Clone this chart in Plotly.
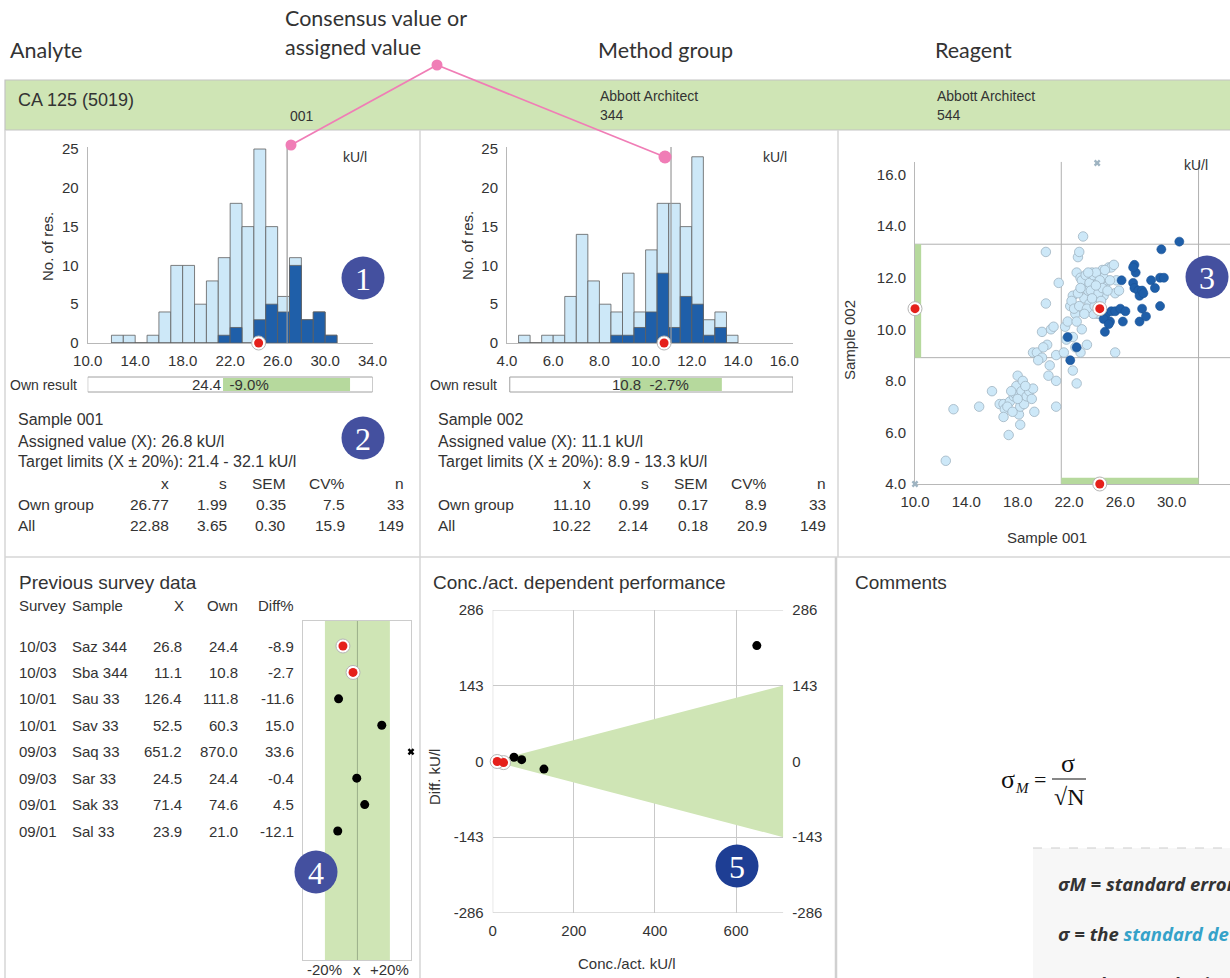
import plotly.graph_objects as go

W, H = 1230, 978
SANS = "Liberation Sans, Arial, sans-serif"
HEAD = "Lato, sans-serif"
SERIF = "Liberation Serif, Times New Roman, serif"
NOTE = "Open Sans, sans-serif"

TXT = "#333333"
LIGHT = "#cde8f8"
DARK = "#1f5fa9"
EDGE = "#606060"
RED = "#e5201b"
GREEN = "#cfe5b5"
GREEN2 = "#b6d99d"
GRID = "#c9c9c9"
PANEL = "#d6d6d6"
BADGE = "#44509f"
BADGE5 = "#1e3e94"
PINK = "#f07db6"

# ---------------- data ----------------
analyte = "CA 125 (5019)"
method_group = ["Abbott Architect", "344"]
reagent = ["Abbott Architect", "544"]

# sample 001 histogram (kU/l), bins of 1.0
s001_bin_start = [12, 13, 14, 15, 16, 17, 18, 19, 20, 21, 22, 23, 24, 25, 26, 27, 28, 29, 30]
s001_all_counts = [1, 1, 0, 1, 4, 10, 10, 5, 8, 11, 18, 15, 25, 15, 6, 11, 3, 4, 1]
s001_own_counts = [0, 0, 0, 0, 0, 0, 0, 0, 0, 1, 2, 0, 3, 5, 4, 10, 3, 4, 1]
s001_bin_width = 1.0
s001_ticks = [10, 14, 18, 22, 26, 30, 34]

# sample 002 histogram (kU/l), bins of 0.5
s002_bin_start = [4.5, 5.0, 5.5, 6.0, 6.5, 7.0, 7.5, 8.0, 8.5, 9.0, 9.5, 10.0, 10.5,
                  11.0, 11.5, 12.0, 12.5, 13.0, 13.5]
s002_all_counts = [1, 0, 1, 1, 6, 14, 8, 5, 4, 9, 4, 12, 18, 18, 15, 24, 3, 4, 1]
s002_own_counts = [0, 0, 0, 0, 0, 0, 0, 0, 1, 1, 2, 4, 9, 2, 6, 5, 1, 2, 0]
s002_bin_width = 0.5
s002_ticks = [4, 6, 8, 10, 12, 14, 16]

count_ticks = [0, 5, 10, 15, 20, 25]

sample_names = ["001", "002"]
assigned = [26.8, 11.1]
target_lo = [21.4, 8.9]
target_hi = [32.1, 13.3]
own_result = [24.4, 10.8]
own_dev = ["-9.0%", "-2.7%"]

stat_cols = ["x", "s", "SEM", "CV%", "n"]
stat_rows = ["Own group", "All"]
s001_stats = [["26.77", "1.99", "0.35", "7.5", "33"],
              ["22.88", "3.65", "0.30", "15.9", "149"]]
s002_stats = [["11.10", "0.99", "0.17", "8.9", "33"],
              ["10.22", "2.14", "0.18", "20.9", "149"]]

# Youden plot: all other participants (sample 001, sample 002)
other_pairs = [
    (12.4, 4.9), (13.0, 6.9), (15.0, 7.0), (16.0, 7.6), (16.6, 7.1), (16.9, 7.1), (17.0, 6.9),
    (16.9, 6.6), (17.3, 5.9), (17.4, 7.2), (17.7, 7.4), (17.8, 7.5), (17.9, 7.8), (18.0, 8.2),
    (18.1, 6.7), (18.2, 6.3), (18.2, 7.0), (18.3, 7.6), (18.4, 8.0), (18.5, 7.1), (18.7, 7.4),
    (18.9, 7.6), (19.1, 7.3), (19.2, 7.7), (19.3, 6.8), (17.2, 7.0), (17.6, 6.8), (18.0, 7.3),
    (18.6, 7.8), (17.5, 7.6),
    (19.2, 9.1), (19.5, 9.1), (19.9, 9.9), (19.9, 8.9), (20.2, 11.0), (20.2, 13.0), (20.3, 9.4),
    (20.5, 8.6), (20.4, 8.2), (20.6, 10.0), (21.0, 8.0), (21.0, 7.0), (21.0, 9.0), (21.2, 11.8),
    (21.6, 9.1), (21.7, 10.1), (21.9, 10.3), (22.1, 10.9), (22.3, 9.7), (22.3, 11.3), (22.3, 8.4),
    (22.6, 7.9), (22.5, 10.6), (22.6, 12.2), (22.7, 12.8), (22.8, 13.0), (22.9, 9.1), (22.9, 12.0),
    (23.0, 10.0), (23.1, 11.6), (23.1, 13.6), (23.2, 11.2), (23.4, 9.4), (23.5, 11.5), (23.6, 11.0),
    (23.8, 12.2), (23.9, 11.8), (24.0, 11.3), (24.2, 11.6), (24.3, 10.9), (24.5, 12.0), (24.6, 12.3),
    (24.7, 11.3), (24.8, 11.7), (24.9, 11.9), (25.1, 12.4), (24.2, 10.6), (24.4, 10.6), (25.3, 12.4),
    (25.5, 12.5), (25.7, 11.9), (25.6, 11.4), (25.9, 11.5), (25.6, 9.1), (24.7, 12.0), (23.9, 10.6),
    (22.2, 11.1), (22.4, 10.8), (22.7, 11.4), (22.8, 10.9), (23.0, 11.9), (23.3, 12.1), (23.4, 10.8),
    (23.6, 11.8), (23.7, 11.5), (23.9, 12.1), (24.1, 12.2), (24.3, 11.4), (24.4, 11.9), (24.6, 11.6),
    (24.0, 10.9), (23.5, 12.2), (22.9, 11.6), (22.6, 10.3), (23.2, 10.6), (24.8, 12.3), (25.2, 11.9),
    (25.0, 11.5), (23.8, 11.2), (24.5, 11.1), (22.5, 9.3), (21.8, 9.6), (20.8, 10.1), (20.0, 9.3),
    (19.6, 8.8), (24.1, 11.7),
]
# Youden plot: own method group
group_pairs = [
    (21.9, 9.7), (22.6, 9.3), (22.1, 8.8), (24.8, 9.9), (24.9, 10.6), (25.2, 10.3), (25.3, 10.7),
    (25.6, 10.7), (26.0, 10.8), (26.1, 11.9), (26.2, 10.3), (26.4, 10.7), (27.1, 12.5), (27.2, 12.2),
    (27.0, 11.8), (27.1, 11.6), (27.4, 11.5), (27.5, 11.3), (27.7, 11.5), (27.8, 11.4), (27.5, 10.3),
    (27.7, 10.8), (28.0, 10.5), (28.4, 11.9), (28.7, 11.6), (29.1, 12.0), (29.4, 12.0), (29.1, 10.9),
    (29.2, 13.1), (30.6, 13.4), (24.7, 10.4), (25.1, 10.2), (27.0, 12.4),
]
# results outside the plotted range
offscale_pairs = [(24.2, 19.0), (6.0, 2.0)]

# previous surveys
prev_survey = ["10/03", "10/03", "10/01", "10/01", "09/03", "09/03", "09/01", "09/01"]
prev_sample = ["Saz 344", "Sba 344", "Sau 33", "Sav 33", "Saq 33", "Sar 33", "Sak 33", "Sal 33"]
prev_x = [26.8, 11.1, 126.4, 52.5, 651.2, 24.5, 71.4, 23.9]
prev_own = [24.4, 10.8, 111.8, 60.3, 870.0, 24.4, 74.6, 21.0]
prev_diff = [-8.9, -2.7, -11.6, 15.0, 33.6, -0.4, 4.5, -12.1]
prev_current = [True, True, False, False, False, False, False, False]
limit_pct = 20

diff_ticks = [-286, -143, 0, 143, 286]
conc_ticks = [0, 200, 400, 600]


# ---------------- helpers ----------------
def fx(p):
    return p / W


def fy(p):
    return 1 - p / H


fig = go.Figure()
shapes = []
annotations = []


def text(x, y, s, size=15, anchor="left", color=TXT, family=SANS, angle=0):
    annotations.append(dict(x=fx(x), y=fy(y), xref="paper", yref="paper", text=s,
                            showarrow=False, xanchor=anchor, yanchor="middle",
                            textangle=angle, font=dict(size=size, color=color, family=family)))


def pline(x0, y0, x1, y1, color=PANEL, width=1.5, dash="solid", layer="below"):
    shapes.append(dict(type="line", xref="paper", yref="paper", x0=fx(x0), y0=fy(y0),
                       x1=fx(x1), y1=fy(y1), line=dict(color=color, width=width, dash=dash),
                       layer=layer))


def pcircle(cx, cy, r, color, layer="above"):
    shapes.append(dict(type="circle", xref="paper", yref="paper", x0=fx(cx - r), x1=fx(cx + r),
                       y0=fy(cy + r), y1=fy(cy - r), fillcolor=color, line=dict(width=0),
                       layer=layer))


def own_marker(xs, ys, xa, ya):
    fig.add_trace(go.Scatter(x=xs, y=ys, mode="markers", xaxis=xa, yaxis=ya, cliponaxis=False,
                             hoverinfo="skip",
                             marker=dict(size=14, color="white", line=dict(color="#b5b5b5", width=1))))
    fig.add_trace(go.Scatter(x=xs, y=ys, mode="markers", xaxis=xa, yaxis=ya, cliponaxis=False,
                             hoverinfo="skip", marker=dict(size=9, color=RED, line=dict(width=0))))


axis_base = dict(showgrid=False, zeroline=False, showline=True, linecolor="#b8b8b8", linewidth=1,
                 ticks="outside", ticklen=5, tickcolor="rgba(0,0,0,0)", automargin=False,
                 layer="below traces",
                 tickfont=dict(family=SANS, size=15, color=TXT), fixedrange=True)

layout_axes = {}

# ---------------- histograms ----------------
hist_specs = [
    dict(k=1, starts=s001_bin_start, allc=s001_all_counts, ownc=s001_own_counts, w=s001_bin_width,
         ticks=s001_ticks, rng=[10, 34], dom=(87.7, 372.6), off=0),
    dict(k=2, starts=s002_bin_start, allc=s002_all_counts, ownc=s002_own_counts, w=s002_bin_width,
         ticks=s002_ticks, rng=[4, 16.38], dom=(507, 793), off=420),
]
for i, hs in enumerate(hist_specs):
    k = hs["k"]
    xa, ya = ("x", "y") if k == 1 else (f"x{k}", f"y{k}")
    xkey, ykey = ("xaxis", "yaxis") if k == 1 else (f"xaxis{k}", f"yaxis{k}")
    centers = [s + hs["w"] / 2 for s in hs["starts"]]
    fig.add_trace(go.Bar(x=centers, y=hs["allc"], width=hs["w"], xaxis=xa, yaxis=ya,
                         marker=dict(color=LIGHT, line=dict(color=EDGE, width=0.8)), hoverinfo="skip"))
    fig.add_trace(go.Bar(x=centers, y=hs["ownc"], width=hs["w"], xaxis=xa, yaxis=ya,
                         marker=dict(color=DARK, line=dict(color=EDGE, width=0.8)), hoverinfo="skip"))
    layout_axes[xkey] = dict(axis_base, domain=[fx(hs["dom"][0]), fx(hs["dom"][1])], range=hs["rng"],
                             tickvals=hs["ticks"], ticktext=[f"{v:.1f}" for v in hs["ticks"]],
                             anchor=ya, ticklen=4)
    layout_axes[ykey] = dict(axis_base, domain=[fy(343), fy(147)], range=[0, 25.26],
                             tickvals=count_ticks, anchor=xa)
    # assigned value line
    shapes.append(dict(type="line", xref=xa, yref=ya, x0=assigned[i], x1=assigned[i], y0=0, y1=25.26,
                       line=dict(color="#9a9a9a", width=1.2), layer="above"))
    own_marker([own_result[i]], [0], xa, ya)

    off = hs["off"]
    text(355 + off, 157, "kU/l", 14, "center")
    text(47 + off, 246, "No. of res.", 15, "center", angle=-90)

    # own result bar with target limits
    lo, hi = hs["rng"][0], hs["rng"][1]
    shapes.append(dict(type="rect", xref=xa, yref="paper", x0=lo + (0.12 if k == 2 else 0), x1=hi,
                       y0=fy(392), y1=fy(377), fillcolor="white", line=dict(color="#a0a0a0", width=1),
                       layer="above"))
    shapes.append(dict(type="rect", xref=xa, yref="paper", x0=target_lo[i], x1=target_hi[i],
                       y0=fy(391), y1=fy(378), fillcolor=GREEN2, line=dict(width=0), layer="above"))
    annotations.append(dict(x=(lo + hi) / 2, y=fy(384.5), xref=xa, yref="paper",
                            text=f"{own_result[i]:.1f}  {own_dev[i]}", showarrow=False,
                            xanchor="center", yanchor="middle",
                            font=dict(size=15, color=TXT, family=SANS)))
    text(8 + off, 384.5, "Own result", 14)

    # statistics block
    stats = s001_stats if k == 1 else s002_stats
    text(16 + off, 420, f"Sample {sample_names[i]}", 16)
    text(16 + off, 441, f"Assigned value (X): {assigned[i]:.1f} kU/l", 16)
    text(16 + off, 462, f"Target limits (X \u00b1 {limit_pct}%): {target_lo[i]:.1f} - {target_hi[i]:.1f} kU/l", 16)
    col_right = [171, 229, 288, 347, 406]
    for c, name in enumerate(stat_cols):
        text(col_right[c] + off + (i * 2), 483, name, 15.5, "right")
    for r, rname in enumerate(stat_rows):
        text(16 + off, 504 + r * 21, rname, 15.5)
        for c in range(len(stat_cols)):
            text(col_right[c] + off + (i * 2), 504 + r * 21, stats[r][c], 15.5, "right")

# ---------------- Youden plot ----------------
yx_rng = [10, 34.55]
yy_rng = [4, 16.5]
layout_axes["xaxis3"] = dict(axis_base, domain=[fx(915), 1.0], range=yx_rng, anchor="y3",
                             tickvals=s001_ticks, ticktext=[f"{v:.1f}" for v in s001_ticks], ticklen=4)
yticks3 = [4, 6, 8, 10, 12, 14, 16]
layout_axes["yaxis3"] = dict(axis_base, domain=[fy(484), fy(161.7)], range=yy_rng, anchor="x3",
                             tickvals=yticks3, ticktext=[f"{v:.1f}" for v in yticks3])
for v in (target_lo[1], target_hi[1]):
    shapes.append(dict(type="line", xref="x3", yref="y3", x0=yx_rng[0], x1=yx_rng[1], y0=v, y1=v,
                       line=dict(color="#b0b0b0", width=1), layer="below"))
for v in (target_lo[0], target_hi[0]):
    shapes.append(dict(type="line", xref="x3", yref="y3", x0=v, x1=v, y0=yy_rng[0], y1=yy_rng[1],
                       line=dict(color="#b0b0b0", width=1), layer="below"))
shapes.append(dict(type="rect", xref="x3", yref="y3", x0=yx_rng[0], x1=yx_rng[0] + 0.48,
                   y0=target_lo[1], y1=target_hi[1], fillcolor=GREEN2, line=dict(width=0), layer="below"))
shapes.append(dict(type="rect", xref="x3", yref="y3", x0=target_lo[0], x1=target_hi[0],
                   y0=yy_rng[0], y1=yy_rng[0] + 0.24, fillcolor=GREEN2, line=dict(width=0), layer="below"))
fig.add_trace(go.Scatter(x=[p[0] for p in other_pairs], y=[p[1] for p in other_pairs], mode="markers",
                         xaxis="x3", yaxis="y3", hoverinfo="skip",
                         marker=dict(size=9.5, color=LIGHT, line=dict(color="#9fb4c2", width=0.8))))
fig.add_trace(go.Scatter(x=[p[0] for p in group_pairs], y=[p[1] for p in group_pairs], mode="markers",
                         xaxis="x3", yaxis="y3", hoverinfo="skip",
                         marker=dict(size=9, color=DARK, line=dict(color="#1a5396", width=0.6))))
fig.add_trace(go.Scatter(
    x=[min(max(p[0], yx_rng[0]), yx_rng[1]) for p in offscale_pairs],
    y=[min(max(p[1], yy_rng[0]), yy_rng[1] - 0.05) for p in offscale_pairs],
    mode="markers", xaxis="x3", yaxis="y3", cliponaxis=False, hoverinfo="skip",
    marker=dict(symbol="x", size=6, color="#9fb4c2", line=dict(width=0))))
own_marker([own_result[0], yx_rng[0], own_result[0]], [own_result[1], own_result[1], yy_rng[0]], "x3", "y3")
text(1196, 165, "kU/l", 14, "center")
text(850, 340, "Sample 002", 15, "center", angle=-90)
text(1047, 537, "Sample 001", 15, "center")

# ---------------- previous survey data ----------------
d_rng = [-33.5, 33.0]
layout_axes["xaxis4"] = dict(showgrid=False, zeroline=False, showline=True, mirror=True,
                             linecolor="#cccccc", linewidth=1, showticklabels=False, ticks="",
                             automargin=False, layer="below traces",
                             domain=[fx(303), fx(411)], range=d_rng, anchor="y4", fixedrange=True)
layout_axes["yaxis4"] = dict(showgrid=False, zeroline=False, showline=True, mirror=True,
                             linecolor="#cccccc", linewidth=1, showticklabels=False, ticks="",
                             automargin=False, layer="below traces",
                             domain=[fy(960), fy(621)], range=[11.88, -0.946], anchor="x4",
                             fixedrange=True)
shapes.append(dict(type="rect", xref="x4", yref="y4", x0=-limit_pct, x1=limit_pct, y0=11.88, y1=-0.946,
                   fillcolor=GREEN, line=dict(width=0), layer="below"))
shapes.append(dict(type="line", xref="x4", yref="y4", x0=0, x1=0, y0=11.88, y1=-0.946,
                   line=dict(color="#9aae8a", width=1), layer="below"))
rows = list(range(len(prev_diff)))
in_rng = [i for i in rows if d_rng[0] <= prev_diff[i] <= d_rng[1]]
out_rng = [i for i in rows if i not in in_rng]
cur = [i for i in in_rng if prev_current[i]]
old = [i for i in in_rng if not prev_current[i]]
fig.add_trace(go.Scatter(x=[prev_diff[i] for i in old], y=old, mode="markers", xaxis="x4", yaxis="y4",
                         hoverinfo="skip", marker=dict(size=9, color="black")))
fig.add_trace(go.Scatter(x=[min(max(prev_diff[i], d_rng[0]), d_rng[1]) for i in out_rng], y=out_rng,
                         mode="markers", xaxis="x4", yaxis="y4", cliponaxis=False, hoverinfo="skip",
                         marker=dict(symbol="x", size=6, color="black", line=dict(width=0))))
own_marker([prev_diff[i] for i in cur], cur, "x4", "y4")

text(17, 582, "Previous survey data", 19)
text(17, 605, "Survey", 15)
text(70, 605, "Sample", 15)
text(179, 605, "X", 15, "center")
text(240, 605, "Own", 15, "right")
text(296, 605, "Diff%", 15, "right")
for i in rows:
    for xpos, s, anc in ((17, prev_survey[i], "left"), (70, prev_sample[i], "left"),
                         (184, f"{prev_x[i]:.1f}", "right"), (240, f"{prev_own[i]:.1f}", "right"),
                         (296, f"{prev_diff[i]:.1f}", "right")):
        annotations.append(dict(x=fx(xpos), y=i, xref="paper", yref="y4", text=s, showarrow=False,
                                xanchor=anc, yanchor="middle", font=dict(size=15, color=TXT, family=SANS)))
annotations.append(dict(x=-limit_pct, y=fy(969), xref="x4", yref="paper", text=f"-{limit_pct}%",
                        showarrow=False, xanchor="center", yanchor="middle",
                        font=dict(size=15, color=TXT, family=SANS)))
annotations.append(dict(x=0, y=fy(969), xref="x4", yref="paper", text="x", showarrow=False,
                        xanchor="center", yanchor="middle", font=dict(size=15, color=TXT, family=SANS)))
annotations.append(dict(x=limit_pct, y=fy(969), xref="x4", yref="paper", text=f"+{limit_pct}%",
                        showarrow=False, xanchor="center", yanchor="middle",
                        font=dict(size=15, color=TXT, family=SANS)))

# ---------------- concentration dependent performance ----------------
c_max = 716.5
layout_axes["xaxis5"] = dict(axis_base, showline=False, showgrid=True, gridcolor=GRID, gridwidth=1,
                             domain=[fx(492.7), fx(783.3)], range=[0, c_max], tickvals=conc_ticks,
                             anchor="y5", ticklen=4)
layout_axes["yaxis5"] = dict(axis_base, showline=False, showgrid=True, gridcolor=GRID, gridwidth=1,
                             zeroline=True, zerolinecolor="#a8a8a8", zerolinewidth=1,
                             domain=[fy(912.7), fy(610)], range=[diff_ticks[0], diff_ticks[-1]],
                             tickvals=diff_ticks, ticktext=[str(v) for v in diff_ticks], anchor="x5")
layout_axes["yaxis6"] = dict(axis_base, showline=False, overlaying="y5", side="right", anchor="x5",
                             range=[diff_ticks[0], diff_ticks[-1]], tickvals=diff_ticks,
                             ticktext=[str(v) for v in diff_ticks])
# frame lines at the plot limits
for yv in (diff_ticks[0], diff_ticks[-1]):
    shapes.append(dict(type="line", xref="x5", yref="y5", x0=0, x1=c_max, y0=yv, y1=yv,
                       line=dict(color=GRID, width=1), layer="below"))
shapes.append(dict(type="line", xref="x5", yref="y5", x0=0, x1=0, y0=diff_ticks[0], y1=diff_ticks[-1],
                   line=dict(color=GRID, width=1), layer="below"))
fig.add_trace(go.Scatter(x=[0, c_max, c_max, 0], y=[0, c_max * limit_pct / 100, -c_max * limit_pct / 100, 0],
                         mode="lines", fill="toself", fillcolor=GREEN, line=dict(width=0),
                         xaxis="x5", yaxis="y5", hoverinfo="skip"))
fig.add_trace(go.Scatter(x=[0], y=[0], mode="markers", marker=dict(opacity=0), xaxis="x5", yaxis="y6",
                         hoverinfo="skip"))
diff_abs = [o - x for o, x in zip(prev_own, prev_x)]
fig.add_trace(go.Scatter(x=[prev_x[i] for i in rows if not prev_current[i]],
                         y=[diff_abs[i] for i in rows if not prev_current[i]],
                         mode="markers", xaxis="x5", yaxis="y5", hoverinfo="skip",
                         marker=dict(size=9, color="black")))
own_marker([prev_x[i] for i in rows if prev_current[i]], [diff_abs[i] for i in rows if prev_current[i]],
           "x5", "y5")
text(431, 582, "Conc./act. dependent performance", 19)
text(434, 777, "Diff. kU/l", 15, "center", angle=-90)
text(627, 963, "Conc./act. kU/l", 15, "center")

# ---------------- comments ----------------
text(853, 582, "Comments", 19)
text(1008, 779, "\u03c3", 26, "center", "#111", SERIF)
text(1022, 788, "<i>M</i>", 15, "center", "#111", SERIF)
text(1040, 779, "=", 22, "center", "#111", SERIF)
text(1068, 763, "\u03c3", 26, "center", "#111", SERIF)
text(1069, 797, "\u221aN", 24, "center", "#111", SERIF)
pline(1052, 779, 1086, 779, "#111", 1.2, layer="above")
shapes.append(dict(type="rect", xref="paper", yref="paper", x0=fx(1033), x1=1.02, y0=fy(990), y1=fy(848),
                   fillcolor="#f7f7f7", line=dict(width=0), layer="below"))
pline(1033, 848, 1232, 848, "#cccccc", 1, "dash")
text(1056, 883, "<b><i>\u03c3M = standard error of the mean</i></b>", 18.5, "left", "#333", NOTE)
text(1056, 933, "<b><i>\u03c3 = the <span style='color:#35a2c9'>standard deviation</span></i></b>",
     18.5, "left", "#333", NOTE)
text(1056, 983, "<b><i>N = the sample size</i></b>", 18.5, "left", "#333", NOTE)

# ---------------- header ----------------
text(8, 50, "Analyte", 21.5, "left", "#333", HEAD)
text(283, 18, "Consensus value or", 21.5, "left", "#333", HEAD)
text(283, 47, "assigned value", 21.5, "left", "#333", HEAD)
text(596, 50, "Method group", 21.5, "left", "#333", HEAD)
text(933, 50, "Reagent", 21.5, "left", "#333", HEAD)
shapes.append(dict(type="rect", xref="paper", yref="paper", x0=fx(5), x1=1.01, y0=fy(130), y1=fy(80),
                   fillcolor=GREEN, line=dict(color="#c4c4c4", width=1.2), layer="below"))
text(16, 100, analyte, 18)
text(302, 116, sample_names[0], 14, "center")
text(598, 96, method_group[0], 14)
text(598, 115, method_group[1], 14)
text(935, 96, reagent[0], 14)
text(935, 115, reagent[1], 14)

# panel frame
pline(5, 130, 5, 978)
pline(420, 130, 420, 978)
pline(838, 130, 838, 557)
pline(836, 557, 836, 978, "#d0d0d0", 2.5)
pline(5, 557, 1232, 557)

# consensus value callout
pline(437, 65, 291, 145, PINK, 1.8, layer="above")
pline(437, 65, 665, 157, PINK, 1.8, layer="above")
pcircle(437, 65, 5.5, PINK)
pcircle(291, 145, 5.5, PINK)
pcircle(665, 157, 6.5, PINK)

# numbered badges
for num, cx, cy, col in ((1, 363, 278, BADGE), (2, 363, 438, BADGE), (3, 1207, 277, BADGE),
                         (4, 316, 872, BADGE), (5, 737, 866, BADGE5)):
    pcircle(cx, cy, 21.5, col)
    text(cx, cy + 1, str(num), 32, "center", "white", SERIF)

fig.update_layout(
    width=W, height=H, margin=dict(l=0, r=0, t=0, b=0, autoexpand=False),
    paper_bgcolor="white", plot_bgcolor="rgba(0,0,0,0)",
    barmode="overlay", showlegend=False,
    shapes=shapes, annotations=annotations,
    **layout_axes,
)

fig.write_html("out.html")
